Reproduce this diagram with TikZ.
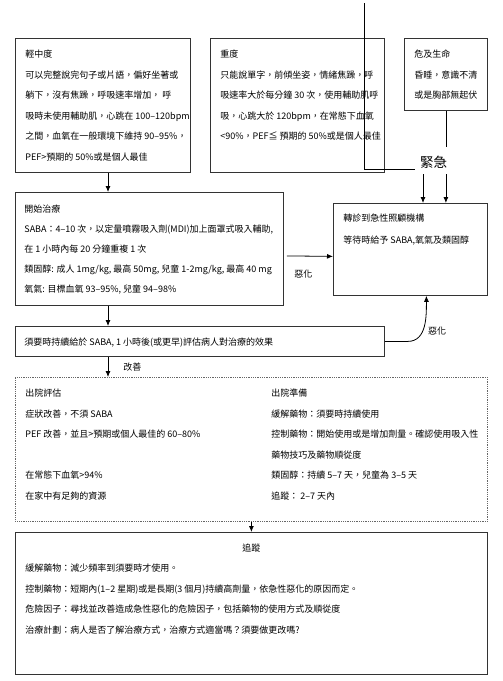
\documentclass[tikz,border=0pt]{standalone}
\usepackage{fontspec}
\setmainfont{Noto Sans CJK TC}
\usepackage{tikz}
\usetikzlibrary{calc,positioning,arrows.meta}
\tikzset{
  frame/.style={draw=black!80, line width=0.8pt, inner sep=0pt, anchor=north west},
  txt/.style={anchor=north west, inner sep=0pt, align=left, font=\fontsize{9}{20.5}\selectfont},
  lbl/.style={inner sep=0pt, font=\fontsize{9}{11}\selectfont}
}

\begin{document}
\begin{tikzpicture}[x=1pt, y=-1pt, >={Latex[length=6pt,width=5pt]}, line width=0.8pt]
\useasboundingbox (0,0) rectangle (503,681);
% top row
\node[frame, minimum width=175pt, minimum height=134pt] (mild) at (15,38) {};
\node[txt] (mildtxt) at ([shift={(10pt,-11.5pt)}]mild.north west) {輕中度\\
可以完整說完句子或片語，偏好坐著或\\
躺下，沒有焦躁，呼吸速率增加， 呼\\
吸時未使用輔助肌，心跳在 100–120bpm\\
之間，血氧在一般環境下維持 90–95\%，\\
PEF>預期的 50\%或是個人最佳};
\node[frame, minimum width=174pt, minimum height=134pt] (severe) at (210,38) {};
\node[txt] (severetxt) at ([shift={(10pt,-11.5pt)}]severe.north west) {重度\\
只能說單字，前傾坐姿，情緒焦躁，呼\\
吸速率大於每分鐘 30 次，使用輔助肌呼\\
吸，心跳大於 120bpm，在常態下血氧\\
<90\%，PEF≦ 預期的 50\%或是個人最佳};
\node[frame, minimum width=83pt, minimum height=72pt] (life) at (404,38) {};
\node[txt] (lifetxt) at ([shift={(10pt,-11.5pt)}]life.north west) {危及生命\\
昏睡，意識不清\\
或是胸部無起伏};
\node[font=\fontsize{13.5}{14}\selectfont, inner sep=2pt] (urgent) at (433.5,162.5) {緊急};
\coordinate (feed) at (364,3);
\draw (feed) |- ([shift={(-3pt,-6.5pt)}]urgent.west);
\draw (life.south) -- ([yshift=7pt]urgent.north -| life.south);
% treatment
\node[frame, minimum width=268pt, minimum height=113pt] (treat) at (15,192) {};
\node[txt, font=\fontsize{9}{20}\selectfont] (treattxt) at ([shift={(9pt,-12.5pt)}]treat.north west) {開始治療\\
SABA：4–10 次，以定量噴霧吸入劑(MDI)加上面罩式吸入輔助,\\
在 1 小時內每 20 分鐘重複 1 次\\
類固醇: 成人 1mg/kg, 最高 50mg, 兒童 1-2mg/kg, 最高 40 mg\\
氧氣: 目標血氧 93–95\%, 兒童 94–98\%};
\node[frame, minimum width=154pt, minimum height=92pt] (refer) at (333,203) {};
\node[txt, font=\fontsize{9}{22}\selectfont] (refertxt) at ([shift={(10pt,-10.5pt)}]refer.north west) {轉診到急性照顧機構\\
等待時給予 SABA,氧氣及類固醇};
\node[frame, minimum width=369pt, minimum height=30pt] (reassess) at (15,326) {};
\node[txt] (reassesstxt) at ([shift={(9pt,-11.5pt)}]reassess.north west) {須要時持續給於 SABA, 1 小時後(或更早)評估病人對治療的效果};
% discharge
\node[frame, draw=black!60, densely dotted, minimum width=472pt, minimum height=144pt] (discharge) at (15,377) {};
\node[txt] (leavetxt) at ([shift={(10pt,-11.5pt)}]discharge.north west) {出院評估\\
症狀改善，不須 SABA\\
PEF 改善，並且>預期或個人最佳的 60–80\%\\[20.5pt]
在常態下血氧>94\%\\
在家中有足夠的資源};
\node[txt] (preptxt) at ([shift={(256pt,-11.5pt)}]discharge.north west) {出院準備\\
緩解藥物：須要時持續使用\\
控制藥物：開始使用或是增加劑量。確認使用吸入性\\
藥物技巧及藥物順從度\\
類固醇：持續 5–7 天，兒童為 3–5 天\\
追蹤： 2–7 天內};
\node[frame, minimum width=472pt, minimum height=142pt] (follow) at (15,532) {};
\node[lbl] (followtitle) at ([yshift=-16pt]follow.north) {追蹤};
\node[txt] (followtxt) at ([shift={(10pt,-31.5pt)}]follow.north west) {緩解藥物：減少頻率到須要時才使用。\\
控制藥物：短期內(1–2 星期)或是長期(3 個月)持續高劑量，依急性惡化的原因而定。\\
危險因子：尋找並改善造成急性惡化的危險因子，包括藥物的使用方式及順從度\\
治療計劃：病人是否了解治療方式，治療方式適當嗎？須要做更改嗎?};
% connectors
\coordinate (spine) at (108,0);
\coordinate (u1) at (423,0);
\draw[->] (mild.south -| spine) -- (treat.north -| spine);
\draw[->] (treat.south -| spine) -- (reassess.north -| spine);
\draw[->] (reassess.south -| spine) -- (discharge.north -| spine) node[lbl, midway, right=15pt] (better) {改善};
\draw[->] (discharge.south) -- (follow.north);
\draw[->] ([shift={(3pt,-7pt)}]treat.east) -- ([yshift=-7pt]refer.west) node[lbl, pos=0.36, below=13pt] (worse) {惡化};
\draw[->] (reassess.east) -- ++(23,0) to[out=0, in=-90] ([xshift=16pt]refer.south);
\node[lbl] (worsen) at (437,331) {惡化};
\draw[->] ([yshift=-3pt]urgent.south -| u1) -- (refer.north -| u1);
\draw[->] ([yshift=-3pt]urgent.south -| life.south) -- (refer.north -| life.south);
\end{tikzpicture}
\end{document}
